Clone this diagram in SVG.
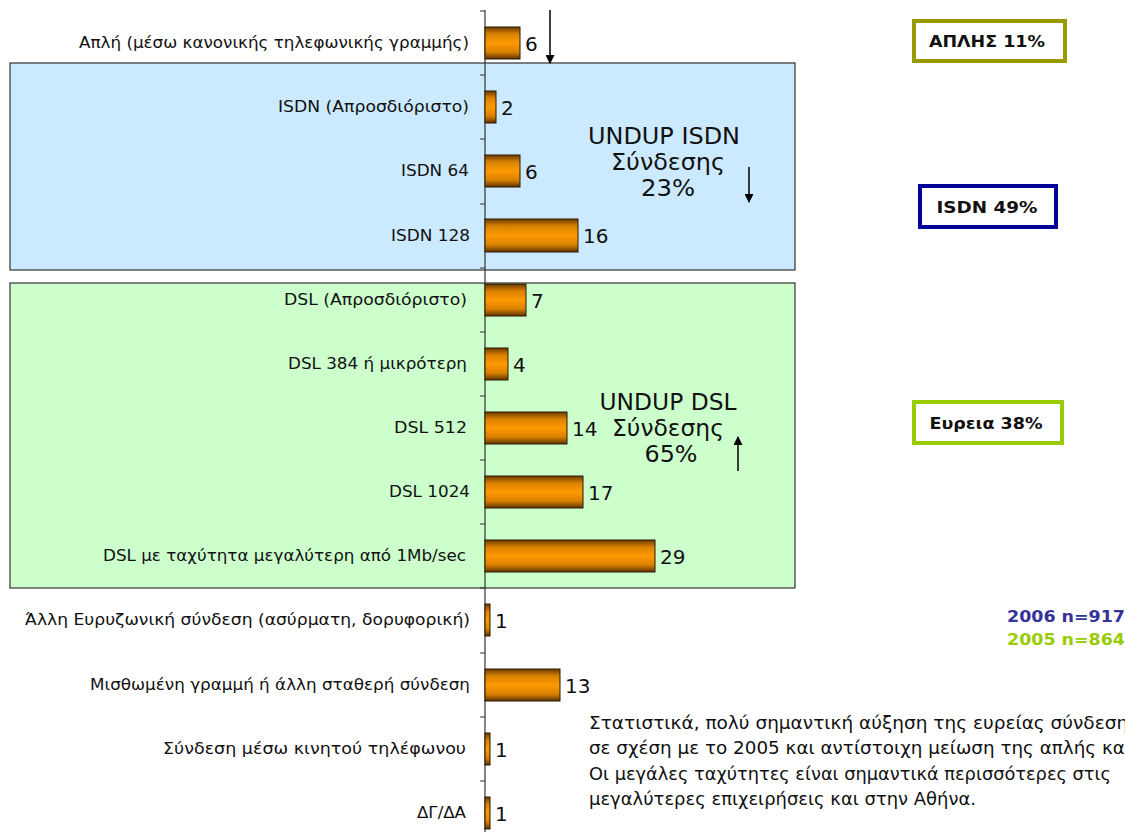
<svg xmlns="http://www.w3.org/2000/svg" width="1125" height="832" viewBox="0 0 1125 832">
<defs>
<linearGradient id="barg" x1="0" y1="0" x2="0" y2="1">
<stop offset="0" stop-color="#6b3a00"/>
<stop offset="0.22" stop-color="#d98200"/>
<stop offset="0.5" stop-color="#ff9900"/>
<stop offset="0.78" stop-color="#d98200"/>
<stop offset="1" stop-color="#5e3300"/>
</linearGradient>
<marker id="ah" viewBox="0 0 10 10" refX="9" refY="5" markerWidth="10" markerHeight="9" markerUnits="userSpaceOnUse" orient="auto">
<path d="M0,0 L10,5 L0,10 z" fill="#000"/>
</marker>
<style>
.lbl{font-family:"DejaVu Sans","Liberation Sans",sans-serif;font-size:15px;fill:#111;text-anchor:end}
.val{font-family:"DejaVu Sans","Liberation Sans",sans-serif;font-size:20px;fill:#111}
.bar{fill:url(#barg);stroke:#2a1a00;stroke-width:1}
.und{font-family:"DejaVu Sans","Liberation Sans",sans-serif;font-size:23px;fill:#111;text-anchor:middle}
.tot{font-family:"DejaVu Sans","Liberation Sans",sans-serif;font-size:16px;font-weight:bold;fill:#111;text-anchor:middle}
.box{fill:#fff;stroke-width:4}
.note{font-family:"DejaVu Sans","Liberation Sans",sans-serif;font-size:17px;fill:#111}
.n{font-family:"DejaVu Sans","Liberation Sans",sans-serif;font-size:16px;font-weight:bold}
.arr{stroke:#000;stroke-width:1.5;fill:none;marker-end:url(#ah)}
.tick{stroke:#333;stroke-width:1}
</style>
</defs>
<rect width="1125" height="832" fill="#fff"/>

<g id="isdn-region">
<rect x="10" y="63" width="785" height="207" fill="#cceaff" stroke="#333" stroke-width="1.2"/>
</g>
<g id="dsl-region">
<rect x="10" y="283" width="785" height="305" fill="#ccffcc" stroke="#333" stroke-width="1.2"/>
</g>

<g id="axis">
<line x1="485" y1="10" x2="485" y2="832" stroke="#333" stroke-width="1.2"/>
<line class="tick" x1="480" y1="11" x2="485" y2="11"/>
<line class="tick" x1="480" y1="75" x2="485" y2="75"/>
<line class="tick" x1="480" y1="139" x2="485" y2="139"/>
<line class="tick" x1="480" y1="204" x2="485" y2="204"/>
<line class="tick" x1="480" y1="268" x2="485" y2="268"/>
<line class="tick" x1="480" y1="332" x2="485" y2="332"/>
<line class="tick" x1="480" y1="396" x2="485" y2="396"/>
<line class="tick" x1="480" y1="460" x2="485" y2="460"/>
<line class="tick" x1="480" y1="524" x2="485" y2="524"/>
<line class="tick" x1="480" y1="588" x2="485" y2="588"/>
<line class="tick" x1="480" y1="653" x2="485" y2="653"/>
<line class="tick" x1="480" y1="717" x2="485" y2="717"/>
<line class="tick" x1="480" y1="781" x2="485" y2="781"/>
</g>

<g id="cat-apli">
<text class="lbl" x="469" y="48" textLength="390" lengthAdjust="spacingAndGlyphs">Απλή (μέσω κανονικής τηλεφωνικής γραμμής)</text>
<rect class="bar" x="485" y="27" width="35" height="32"/>
<text class="val" x="525" y="51">6</text>
</g>
<g id="cat-isdn-unspec">
<text class="lbl" x="469" y="112" textLength="191" lengthAdjust="spacingAndGlyphs">ISDN (Απροσδιόριστο)</text>
<rect class="bar" x="485" y="91" width="11" height="32"/>
<text class="val" x="501" y="115">2</text>
</g>
<g id="cat-isdn64">
<text class="lbl" x="469" y="176" textLength="68" lengthAdjust="spacingAndGlyphs">ISDN 64</text>
<rect class="bar" x="485" y="155" width="35" height="32"/>
<text class="val" x="525" y="179">6</text>
</g>
<g id="cat-isdn128">
<text class="lbl" x="470" y="241" textLength="79" lengthAdjust="spacingAndGlyphs">ISDN 128</text>
<rect class="bar" x="485" y="219" width="93" height="33"/>
<text class="val" x="583" y="243">16</text>
</g>
<g id="cat-dsl-unspec">
<text class="lbl" x="467" y="305" textLength="183" lengthAdjust="spacingAndGlyphs">DSL (Απροσδιόριστο)</text>
<rect class="bar" x="485" y="284" width="41" height="32"/>
<text class="val" x="531" y="308">7</text>
</g>
<g id="cat-dsl384">
<text class="lbl" x="467" y="369" textLength="179" lengthAdjust="spacingAndGlyphs">DSL 384 ή μικρότερη</text>
<rect class="bar" x="485" y="348" width="23" height="32"/>
<text class="val" x="513" y="372">4</text>
</g>
<g id="cat-dsl512">
<text class="lbl" x="467" y="433" textLength="73" lengthAdjust="spacingAndGlyphs">DSL 512</text>
<rect class="bar" x="485" y="412" width="82" height="32"/>
<text class="val" x="572" y="436">14</text>
</g>
<g id="cat-dsl1024">
<text class="lbl" x="470" y="497" textLength="81" lengthAdjust="spacingAndGlyphs">DSL 1024</text>
<rect class="bar" x="485" y="476" width="98" height="32"/>
<text class="val" x="588" y="500">17</text>
</g>
<g id="cat-dsl-fast">
<text class="lbl" x="466" y="561" textLength="363" lengthAdjust="spacingAndGlyphs">DSL με ταχύτητα μεγαλύτερη από 1Mb/sec</text>
<rect class="bar" x="485" y="540" width="170" height="32"/>
<text class="val" x="660" y="564">29</text>
</g>
<g id="cat-other-broadband">
<text class="lbl" x="470" y="625" textLength="445" lengthAdjust="spacingAndGlyphs">Άλλη Ευρυζωνική σύνδεση (ασύρματη, δορυφορική)</text>
<rect class="bar" x="485" y="604" width="5" height="32"/>
<text class="val" x="495" y="628">1</text>
</g>
<g id="cat-leased">
<text class="lbl" x="470" y="690" textLength="380" lengthAdjust="spacingAndGlyphs">Μισθωμένη γραμμή ή άλλη σταθερή σύνδεση</text>
<rect class="bar" x="485" y="669" width="75" height="32"/>
<text class="val" x="565" y="693">13</text>
</g>
<g id="cat-mobile">
<text class="lbl" x="466" y="754" textLength="303" lengthAdjust="spacingAndGlyphs">Σύνδεση μέσω κινητού τηλέφωνου</text>
<rect class="bar" x="485" y="733" width="5" height="32"/>
<text class="val" x="495" y="757">1</text>
</g>
<g id="cat-dk">
<text class="lbl" x="466" y="818" textLength="49" lengthAdjust="spacingAndGlyphs">ΔΓ/ΔΑ</text>
<rect class="bar" x="485" y="797" width="5" height="32"/>
<text class="val" x="495" y="821">1</text>
</g>

<g id="undup-isdn">
<text class="und" x="664" y="144" textLength="152" lengthAdjust="spacingAndGlyphs">UNDUP ISDN</text>
<text class="und" x="668" y="170" textLength="114" lengthAdjust="spacingAndGlyphs">Σύνδεσης</text>
<text class="und" x="668" y="196" textLength="54" lengthAdjust="spacingAndGlyphs">23%</text>
</g>
<g id="undup-dsl">
<text class="und" x="668" y="410" textLength="137" lengthAdjust="spacingAndGlyphs">UNDUP DSL</text>
<text class="und" x="668" y="436" textLength="112" lengthAdjust="spacingAndGlyphs">Σύνδεσης</text>
<text class="und" x="671" y="462" textLength="53" lengthAdjust="spacingAndGlyphs">65%</text>
</g>

<g id="total-apli">
<rect class="box" x="914" y="21" width="151" height="40" stroke="#999900"/>
<text class="tot" x="987" y="47" textLength="116" lengthAdjust="spacingAndGlyphs">ΑΠΛΗΣ 11%</text>
</g>
<g id="total-isdn">
<rect class="box" x="920" y="186" width="136" height="41" stroke="#000099"/>
<text class="tot" x="987" y="213" textLength="101" lengthAdjust="spacingAndGlyphs">ISDN 49%</text>
</g>
<g id="total-eureia">
<rect class="box" x="914" y="402" width="148" height="41" stroke="#99cc00"/>
<text class="tot" x="986" y="429" textLength="113" lengthAdjust="spacingAndGlyphs">Ευρεια 38%</text>
</g>

<g id="sample">
<text class="n" x="1007" y="622" fill="#333399" textLength="118" lengthAdjust="spacingAndGlyphs">2006 n=917</text>
<text class="n" x="1007" y="645" fill="#99cc00" textLength="118" lengthAdjust="spacingAndGlyphs">2005 n=864</text>
</g>

<g id="note">
<text class="note" x="589" y="729" textLength="550" lengthAdjust="spacingAndGlyphs">Στατιστικά, πολύ σημαντική αύξηση της ευρείας σύνδεσης</text>
<text class="note" x="589" y="754" textLength="542" lengthAdjust="spacingAndGlyphs">σε σχέση με το 2005 και αντίστοιχη μείωση της απλής και</text>
<text class="note" x="589" y="780" textLength="522" lengthAdjust="spacingAndGlyphs">Οι μεγάλες ταχύτητες είναι σημαντικά περισσότερες στις</text>
<text class="note" x="589" y="805" textLength="387" lengthAdjust="spacingAndGlyphs">μεγαλύτερες επιχειρήσεις και στην Αθήνα.</text>
</g>

<g id="connectors">
<line class="arr" x1="550" y1="10" x2="550" y2="63"/>
<line class="arr" x1="749" y1="167" x2="749" y2="202"/>
<line class="arr" x1="738" y1="471" x2="738" y2="437"/>
</g>
</svg>
